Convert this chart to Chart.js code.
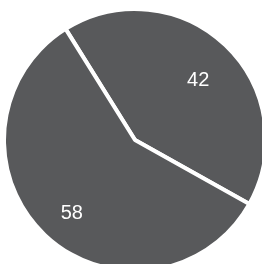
<!DOCTYPE html>
<html>
<head>
<meta charset="utf-8">
<script src="https://cdn.jsdelivr.net/npm/chart.js@4/dist/chart.umd.min.js"></script>
<style>
  html, body { margin: 0; padding: 0; background: #fff; overflow: hidden; }
  body { width: 262px; height: 264px; position: relative; }
  #wrap { position: absolute; left: 2px; top: 7px; width: 266px; height: 266px; }
</style>
</head>
<body>
<div id="wrap"><canvas id="chartCanvas"></canvas></div>
<script>
  const labels = ['A', 'B']
  const values = [42, 58]
  const sliceColors = ['#58595b', '#58595b']

  // draws the value inside each slice
  const sliceLabels = {
    id: 'sliceLabels',
    afterDatasetsDraw(chart) {
      const ctx = chart.ctx
      const meta = chart.getDatasetMeta(0)
      ctx.save()
      ctx.fillStyle = '#ffffff'
      ctx.font = '20px "Liberation Sans", Arial, sans-serif'
      ctx.textAlign = 'center'
      ctx.textBaseline = 'top'
      meta.data.forEach(function (arc, i) {
        const p = arc.getProps(['x', 'y', 'startAngle', 'endAngle', 'outerRadius'], true)
        const mid = (p.startAngle + p.endAngle) / 2
        const r = p.outerRadius * 0.7
        ctx.fillText(String(values[i]), p.x + Math.cos(mid) * r, p.y + Math.sin(mid) * r - 3)
      })
      ctx.restore()
    }
  }

  const ctx = document.getElementById('chartCanvas')
  new Chart(ctx, {
    type: 'pie',
    data: {
      labels: labels,
      datasets: [{
        data: values,
        backgroundColor: sliceColors,
        borderColor: '#ffffff',
        borderWidth: 4,
      }]
    },
    options: {
      responsive: true,
      maintainAspectRatio: false,
      animation: false,
      events: [],
      rotation: -32,
      layout: { padding: 0 },
      plugins: {
        legend: { display: false },
        tooltip: { enabled: false }
      }
    },
    plugins: [sliceLabels]
  })
</script>
</body>
</html>
